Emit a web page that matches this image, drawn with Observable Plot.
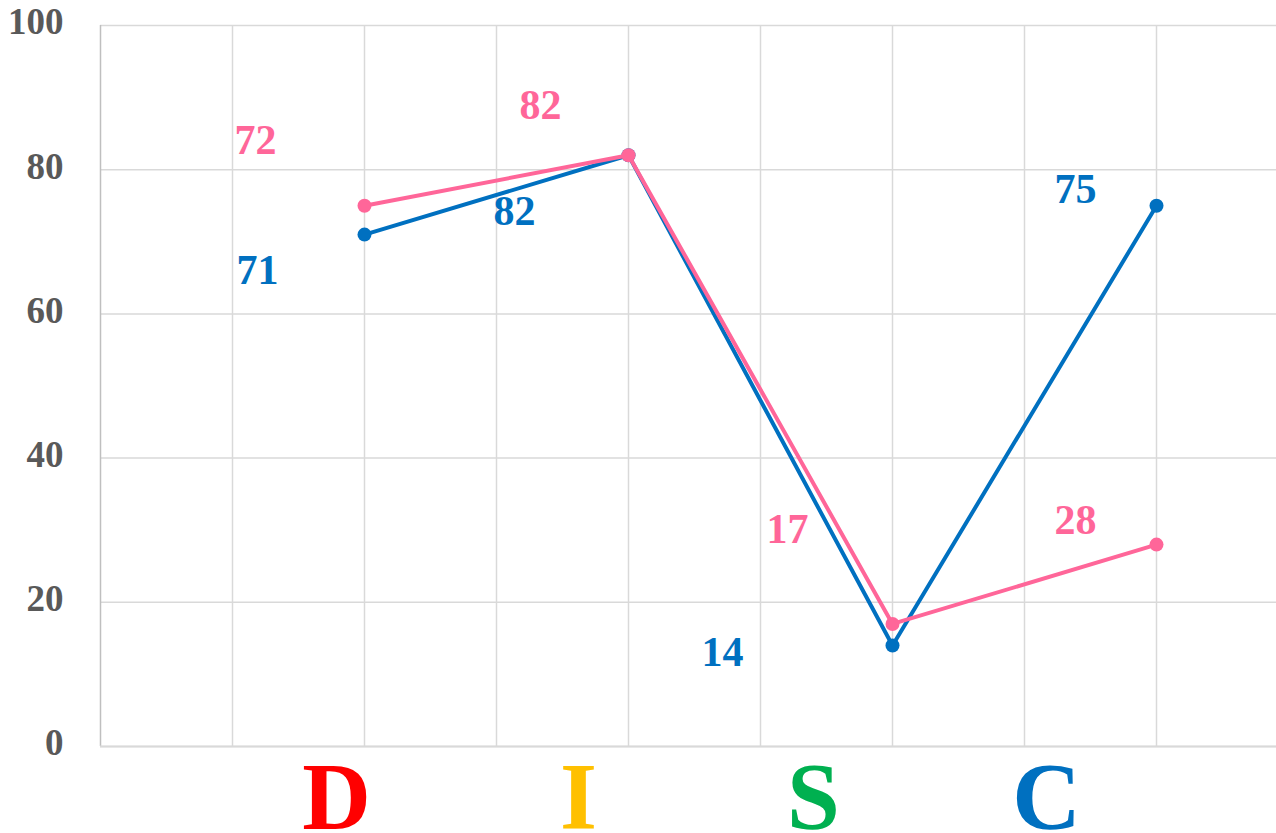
<!DOCTYPE html>
<html><head><meta charset="utf-8">
<script src="https://cdn.jsdelivr.net/npm/d3@7"></script>
<script src="https://cdn.jsdelivr.net/npm/@observablehq/plot@0.6"></script>
<style>html,body{margin:0;padding:0;background:#fff;} #chart svg{display:block}</style>
</head><body><div id="chart"></div>
<script>
const categories = ["D", "I", "S", "C"];
const categoryColors = ["#ff0000", "#ffc000", "#00b050", "#0070c0"];
const blueValues = [71, 82, 14, 75];
const pinkValues = [75, 82, 17, 28];
const blueLabels = ["71", "82", "14", "75"];
const pinkLabels = ["72", "82", "17", "28"];
const yTicks = [0, 20, 40, 60, 80, 100];

const BLUE = "#0070c0", PINK = "#ff6699";
const serif = "'Liberation Serif', 'Times New Roman', serif";

const blue = categories.map((c, i) => ({cat: c, x: i + 1, y: blueValues[i], label: blueLabels[i]}));
const pink = categories.map((c, i) => ({cat: c, x: i + 1, y: pinkValues[i], label: pinkLabels[i]}));

// label pixel offsets relative to their point
const blueOff = [[-107, 36], [-114, 56], [-170, 7], [-81, -16]];
const pinkOff = [[-109, -65], [-88, -50], [-105, -94], [-81, -24]];
const catOff = [-28, -50, -79, -110];

const labelMarks = [];
blue.forEach((d, i) => labelMarks.push(Plot.text([d], {x: "x", y: "y", text: "label", fill: BLUE, fontSize: 42, fontWeight: "bold", fontFamily: serif, dx: blueOff[i][0], dy: blueOff[i][1]})));
pink.forEach((d, i) => labelMarks.push(Plot.text([d], {x: "x", y: "y", text: "label", fill: PINK, fontSize: 42, fontWeight: "bold", fontFamily: serif, dx: pinkOff[i][0], dy: pinkOff[i][1]})));

const catMarks = categories.map((c, i) => Plot.text([{x: i + 1, y: 0, t: c}], {
  x: "x", y: "y", text: "t", fill: categoryColors[i], fontSize: 95, fontWeight: "bold", fontFamily: serif,
  lineAnchor: "bottom", dx: catOff[i], dy: 82
}));

const chart = Plot.plot({
  width: 1276, height: 833,
  marginLeft: 100, marginTop: 25, marginRight: 0, marginBottom: 87,
  style: {background: "#fff", overflow: "visible"},
  x: {type: "linear", domain: [0, 1176 / 264], axis: null},
  y: {domain: [0, 100], ticks: yTicks, label: null},
  marks: [
    Plot.gridY(yTicks, {stroke: "#d9d9d9", strokeOpacity: 1, strokeWidth: 1.5}),
    Plot.gridX(d3.range(0.5, 4.01, 0.5), {stroke: "#d9d9d9", strokeOpacity: 1, strokeWidth: 1.5}),
    Plot.ruleX([0], {stroke: "#bfbfbf", strokeWidth: 1.5}),
    Plot.ruleY([0], {stroke: "#d9d9d9", strokeWidth: 2}),
    Plot.axisY(yTicks, {tickSize: 0, tickPadding: 37, fontSize: 37, fontWeight: "bold", fontFamily: serif, fill: "#595959", dy: -3, label: null}),
    Plot.line(blue, {x: "x", y: "y", stroke: BLUE, strokeWidth: 4}),
    Plot.dot(blue, {x: "x", y: "y", fill: BLUE, r: 7}),
    Plot.line(pink, {x: "x", y: "y", stroke: PINK, strokeWidth: 4}),
    Plot.dot(pink, {x: "x", y: "y", fill: PINK, r: 7}),
    ...labelMarks,
    ...catMarks
  ]
});
document.getElementById("chart").appendChild(chart);
</script>
</body></html>
